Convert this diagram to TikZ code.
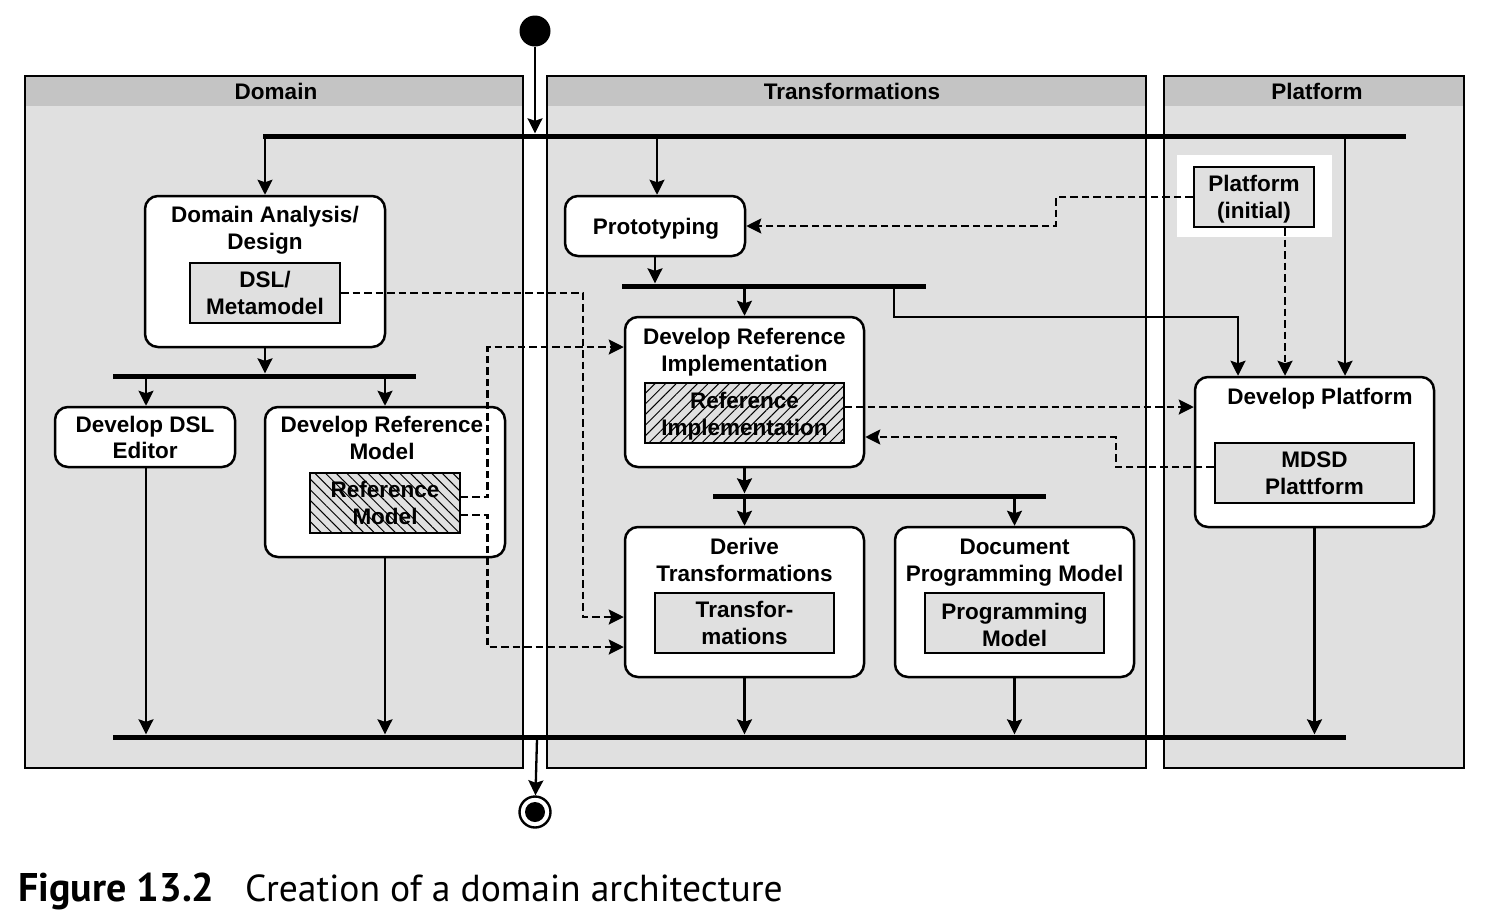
\documentclass[tikz,border=0pt]{standalone}
\usepackage{fontspec}
\setmainfont{Liberation Sans}
\newfontfamily\capfont{PT Sans}
\usetikzlibrary{arrows.meta,patterns.meta,calc}
\definecolor{lanebody}{gray}{0.88}
\definecolor{lanehead}{gray}{0.77}
\definecolor{objgray}{gray}{0.88}
\tikzset{
  txt/.style={font=\bfseries\fontsize{22.5}{26.8}\selectfont, align=center, inner sep=0pt},
  act/.style={draw, line width=2.5pt, fill=white, rounded corners=13pt, inner sep=0pt},
  obj/.style={draw, line width=2.4pt, fill=objgray, inner sep=0pt, txt},
  hatchne/.style={draw, line width=2.4pt, inner sep=0pt, txt, preaction={fill=objgray},
    pattern={Lines[angle=45,distance=7.5pt,line width=1pt]}, pattern color=black},
  hatchnw/.style={draw, line width=2.4pt, inner sep=0pt, txt, preaction={fill=objgray},
    pattern={Lines[angle=-45,distance=7.5pt,line width=1pt]}, pattern color=black},
  syncbar/.style={fill=black, inner sep=0pt, minimum height=5pt},
  flow/.style={line width=2.3pt, -{Stealth[length=15pt,width=15pt,inset=2.5pt]}},
  dep/.style={flow, dash pattern=on 7.5pt off 4pt},
  lanebox/.style={draw, line width=2.3pt},
}
\begin{document}
\begin{tikzpicture}[x=1pt,y=-1pt]
\useasboundingbox (0,0) rectangle (1492,922);
% lanes
\fill[lanebody] (25,76) rectangle (523,768);
\fill[lanehead] (25,76) rectangle (523,106);
\draw[lanebox] (25,76) rectangle (523,768);
\node[txt] (lnD) at (276,91) {Domain};
\fill[lanebody] (547,76) rectangle (1146,768);
\fill[lanehead] (547,76) rectangle (1146,106);
\draw[lanebox] (547,76) rectangle (1146,768);
\node[txt] (lnT) at (852,91) {Transformations};
\fill[lanebody] (1164,76) rectangle (1464,768);
\fill[lanehead] (1164,76) rectangle (1464,106);
\draw[lanebox] (1164,76) rectangle (1464,768);
\node[txt] (lnP) at (1317,91) {Platform};

% start / end
\node[circle, fill=black, minimum size=31pt, inner sep=0pt] (start) at (535,31) {};
\node[circle, draw, line width=2.4pt, fill=white, minimum size=31pt, inner sep=0pt] (final) at (535,812) {};
\node[circle, fill=black, minimum size=20pt, inner sep=0pt] (finalin) at (535,812) {};

% bars
\node[syncbar, minimum width=1143pt] (b1) at (834.5,136) {};
\node[syncbar, minimum width=303pt] (b2) at (264.5,376) {};
\node[syncbar, minimum width=304pt] (b3) at (774,286) {};
\node[syncbar, minimum width=333pt] (b4) at (879.5,496) {};
\node[syncbar, minimum width=1233pt] (b5) at (729.5,737) {};
\coordinate (b3r) at (894,286);
\coordinate (b5m) at (537,739);

% domain activities
\node[act, minimum width=240pt, minimum height=151pt] (da) at (265,271.5) {};
\node[txt] (daT) at (265,230.5) {Domain Analysis/\\Design};
\node[obj, minimum width=150pt, minimum height=60pt] (dsl) at (265,293) {DSL/\\Metamodel};

\node[act, minimum width=180pt, minimum height=60pt] (ed) at (145,437) {};
\node[txt] (edT) at (145,437.5) {Develop DSL\\Editor};

\node[act, minimum width=240pt, minimum height=150pt] (drm) at (385,482) {};
\node[txt] (drmT) at (382,438) {Develop Reference\\Model};
\node[hatchnw, minimum width=150pt, minimum height=60pt] (rm) at (385,503) {Reference\\Model};

% transformations activities
\node[act, minimum width=180pt, minimum height=60pt] (proto) at (655,226) {};
\node[txt] (protoT) at (656,229) {Prototyping};

\node[act, minimum width=239pt, minimum height=150pt] (dri) at (744.5,392) {};
\node[txt] (driT) at (744.5,352.5) {Develop Reference\\Implementation};
\node[hatchne, minimum width=199pt, minimum height=60pt, text depth=0pt] (ri) at (744.5,413) {};
\node[txt] (riT) at (744.5,416) {Reference\\Implementation};

\node[act, minimum width=239pt, minimum height=150pt] (dt) at (744.5,602) {};
\node[txt] (dtT) at (744.5,560) {Derive\\Transformations};
\node[obj, minimum width=179pt, minimum height=60pt] (tr) at (744.5,623) {Transfor-\\mations};

\node[act, minimum width=239pt, minimum height=150pt] (dpm) at (1014.5,602) {};
\node[txt] (dpmT) at (1014.5,562.5) {Document\\Programming Model};
\node[obj, minimum width=179pt, minimum height=60pt] (pm) at (1014.5,623) {};
\node[txt] (pmT) at (1014.5,625) {Programming\\Model};

% platform
\fill[white] (1177,155) rectangle (1332,237);
\node[obj, minimum width=120pt, minimum height=60pt] (pi) at (1254,197) {};
\node[txt] (piT) at (1254,199.5) {Platform\\(initial)};
\node[act, minimum width=239pt, minimum height=150pt] (dp) at (1314.5,452) {};
\node[txt] (dpT) at (1320,399) {Develop Platform};
\node[obj, minimum width=199pt, minimum height=60pt] (mdsd) at (1314.5,473) {MDSD\\Plattform};

% helper points
\coordinate (protoIn) at ($(proto.north)+(2,0)$);
\coordinate (dpInA) at ($(dp.north)+(30.5,0)$);
\coordinate (dpInB) at ($(dp.north)+(-76.5,0)$);
\coordinate (edIn) at ($(ed.north)+(1,0)$);
\coordinate (edOut) at ($(ed.south)+(1,0)$);
\coordinate (piOut) at ($(pi.south)+(31,0)$);
\coordinate (riOut) at ($(ri.east)+(0,-6)$);
\coordinate (rmOutA) at ($(rm.east)+(0,-6)$);
\coordinate (rmOutB) at ($(rm.east)+(0,12)$);
\coordinate (mdsdOut) at ($(mdsd.west)+(0,-6)$);
\coordinate (dtInA) at ($(dt.west)+(0,15)$);
\coordinate (dtInB) at ($(dt.west)+(0,45)$);
\coordinate (driInL) at ($(dri.west)+(0,-45)$);
\coordinate (driInR) at ($(dri.east)+(0,45)$);

% control flows
\draw[flow] (start) -- (start |- b1.north);
\draw[flow] (da.north |- b1.south) -- (da.north);
\draw[flow] (protoIn |- b1.south) -- (protoIn);
\draw[flow] (dpInA |- b1.south) -- (dpInA);
\draw[flow] (da.south) -- (da.south |- b2.north);
\draw[flow] (edIn |- b2.south) -- (edIn);
\draw[flow] (drm.north |- b2.south) -- (drm.north);
\draw[flow] (edOut) -- (edOut |- b5.north);
\draw[flow] (drm.south) -- (drm.south |- b5.north);
\draw[flow] (proto.south) -- (proto.south |- b3.north);
\draw[flow] (dri.north |- b3.south) -- (dri.north);
\draw[flow] (b3r) -- ++(0,31) -| (dpInB);
\draw[flow] (dri.south) -- (dri.south |- b4.north);
\draw[flow] (dt.north |- b4.south) -- (dt.north);
\draw[flow] (dpm.north |- b4.south) -- (dpm.north);
\draw[flow] (dt.south) -- (dt.south |- b5.north);
\draw[flow] (dpm.south) -- (dpm.south |- b5.north);
\draw[flow] (dp.south) -- (dp.south |- b5.north);
\draw[flow] (b5m) -- (final);

% object flows
\draw[dep] (pi.west) -- ++(-137,0) |- (proto.east);
\draw[dep] (piOut) -- (piOut |- dp.north);
\draw[dep] (dsl.east) -- ++(242,0) |- (dtInA);
\draw[dep] (rmOutA) -- ++(27,0) |- (driInL);
\draw[dep] (rmOutB) -- ++(27,0) |- (dtInB);
\draw[dep] (riOut) -- (riOut -| dp.west);
\draw[dep] (mdsdOut) -- ++(-98,0) |- (driInR);

% caption
\node[anchor=base west, inner sep=0pt, font=\capfont\bfseries\fontsize{40}{44}\selectfont] (capA) at (18,901) {Figure 13.2};
\node[anchor=base west, inner sep=0pt, font=\capfont\fontsize{37.6}{42}\selectfont] (capB) at (245,901) {Creation of a domain architecture};
\end{tikzpicture}
\end{document}
